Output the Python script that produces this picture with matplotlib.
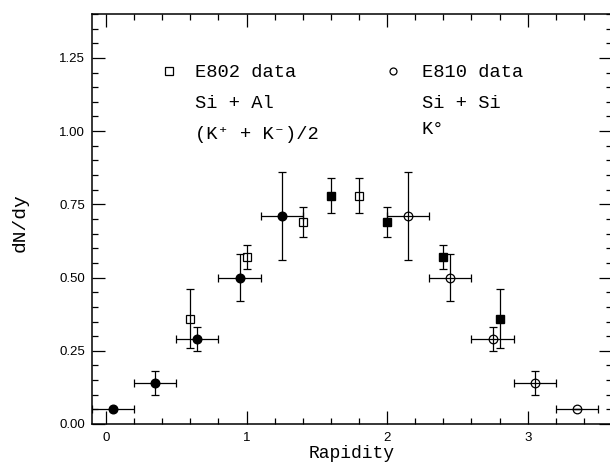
import matplotlib
matplotlib.use("Agg")
import matplotlib.pyplot as plt
from matplotlib.ticker import MultipleLocator, FormatStrFormatter

# E810 Si + Si, K0 (measured, open circles)
e810_rap = [2.15, 2.45, 2.75, 3.05, 3.35]
e810_dndy = [0.71, 0.50, 0.29, 0.14, 0.05]
e810_yerr = [0.15, 0.08, 0.04, 0.04, 0.0]
e810_xerr = [0.15, 0.15, 0.15, 0.15, 0.15]

# E810 reflected about mid-rapidity (filled circles)
e810r_rap = [1.25, 0.95, 0.65, 0.35, 0.05]
e810r_dndy = [0.71, 0.50, 0.29, 0.14, 0.05]
e810r_yerr = [0.15, 0.08, 0.04, 0.04, 0.0]
e810r_xerr = [0.15, 0.15, 0.15, 0.15, 0.15]

# E802 Si + Al, (K+ + K-)/2 (measured, open squares)
e802_rap = [0.6, 1.0, 1.4, 1.8]
e802_dndy = [0.36, 0.57, 0.69, 0.78]
e802_yerr = [0.10, 0.04, 0.05, 0.06]

# E802 reflected about mid-rapidity (filled squares)
e802r_rap = [1.6, 2.0, 2.4, 2.8]
e802r_dndy = [0.78, 0.69, 0.57, 0.36]
e802r_yerr = [0.06, 0.05, 0.04, 0.10]

xticks = [0, 1, 2, 3]
yticks = [0.00, 0.25, 0.50, 0.75, 1.00, 1.25]

mono = ["Liberation Mono", "DejaVu Sans Mono"]
tickfont = "Liberation Sans"

fig = plt.figure(figsize=(6.10, 4.66), dpi=100)
ax = fig.add_axes([92 / 610, 1 - 424 / 466, 520 / 610, 410 / 466])

eb = dict(fmt="none", ecolor="black", elinewidth=0.9, capsize=3, capthick=0.9)

ax.errorbar(e810r_rap, e810r_dndy, xerr=e810r_xerr, yerr=e810r_yerr, **eb)
ax.errorbar(e810_rap, e810_dndy, xerr=e810_xerr, yerr=e810_yerr, **eb)
ax.errorbar(e802_rap, e802_dndy, yerr=e802_yerr, **eb)
ax.errorbar(e802r_rap, e802r_dndy, yerr=e802r_yerr, **eb)

ax.plot(e810r_rap, e810r_dndy, "o", ms=6.2, mfc="black", mec="black", ls="none")
ax.plot(e810_rap, e810_dndy, "o", ms=6.2, mfc="none", mec="black", mew=0.9, ls="none")
ax.plot(e802_rap, e802_dndy, "s", ms=5.4, mfc="none", mec="black", mew=0.9, ls="none")
ax.plot(e802r_rap, e802r_dndy, "s", ms=5.6, mfc="black", mec="black", ls="none")

# Key, written inside the frame
ax.plot([0.448], [1.207], "s", ms=5.5, mfc="none", mec="black", mew=0.9, ls="none")
ax.plot([2.045], [1.207], "o", ms=5.0, mfc="none", mec="black", mew=0.9, ls="none")
tkw = dict(family=mono, fontsize=13.5, ha="left", va="center", color="black")
ax.text(0.633, 1.200, "E802 data", **tkw)
ax.text(0.633, 1.095, "Si + Al", **tkw)
ax.text(0.633, 0.988, "(K\u207a + K\u207b)/2", **tkw)
ax.text(2.247, 1.200, "E810 data", **tkw)
ax.text(2.247, 1.095, "Si + Si", **tkw)
ax.text(2.247, 1.005, "K\u00b0", **tkw)

ax.set_xlim(-0.1, 3.6)
ax.set_ylim(0.0, 1.40)
ax.set_xticks(xticks)
ax.set_yticks(yticks)
ax.xaxis.set_minor_locator(MultipleLocator(0.2))
ax.yaxis.set_minor_locator(MultipleLocator(0.05))
ax.yaxis.set_major_formatter(FormatStrFormatter("%.2f"))
ax.tick_params(which="both", direction="in", top=True, right=True,
               width=0.9, color="black")
ax.tick_params(which="major", length=9.5)
ax.tick_params(which="minor", length=4.3)
ax.tick_params(axis="y", which="major", pad=5)
ax.tick_params(axis="x", which="major", pad=6)
for lab in ax.get_xticklabels() + ax.get_yticklabels():
    lab.set_family(tickfont)
    lab.set_fontsize(9.5)
for sp in ax.spines.values():
    sp.set_linewidth(1.1)

ax.set_xlabel("Rapidity", family=mono, fontsize=13)
ax.set_ylabel("dN/dy", family=mono, fontsize=14)
ax.xaxis.set_label_coords(0.5, -0.050)
ax.yaxis.set_label_coords(-0.122, 0.49)

fig.savefig("out.png", dpi=100)
